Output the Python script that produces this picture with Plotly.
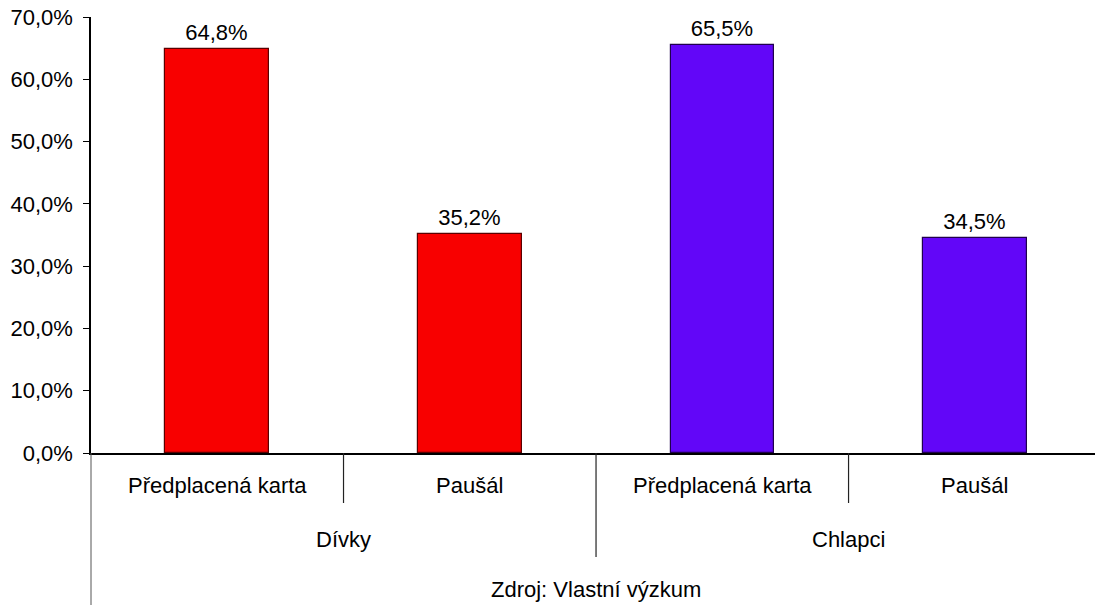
import plotly.graph_objects as go

# data
categories = ["Předplacená karta", "Paušál", "Předplacená karta", "Paušál"]
groups = ["Dívky", "Dívky", "Chlapci", "Chlapci"]
values = [64.8, 35.2, 65.5, 34.5]
source = "Zdroj: Vlastní výzkum"

group_colors = {"Dívky": "#F80000", "Chlapci": "#6206F8"}
group_lines = {"Dívky": "#5A0000", "Chlapci": "#20004F"}

FONT = "Arial, Liberation Sans, sans-serif"
FS = 22
x = list(range(len(values)))

fig = go.Figure()
fig.add_trace(go.Bar(
    x=x, y=values, width=0.41,
    marker=dict(color=[group_colors[g] for g in groups],
                line=dict(color=[group_lines[g] for g in groups], width=1.2)),
    texttemplate="%{y:.1f}%", textposition="outside",
    textfont=dict(size=FS, color="black", family=FONT),
    cliponaxis=False,
))

# category labels (inner level)
for i, c in enumerate(categories):
    fig.add_annotation(x=i, y=0, xref="x", yref="paper", yanchor="middle",
                       yshift=-32, text=c, showarrow=False,
                       font=dict(size=FS, color="black", family=FONT))

# group labels (outer level)
ordered = []
for g in groups:
    if g not in ordered:
        ordered.append(g)
for g in ordered:
    idx = [i for i, gg in enumerate(groups) if gg == g]
    fig.add_annotation(x=sum(idx) / len(idx), y=0, xref="x", yref="paper",
                       yanchor="middle", yshift=-86, text=g, showarrow=False,
                       font=dict(size=FS, color="black", family=FONT))

fig.add_annotation(x=(len(values) - 1) / 2, y=0, xref="x", yref="paper",
                   yanchor="middle", yshift=-136, text=source, showarrow=False,
                   font=dict(size=FS, color="black", family=FONT))

plot_h = 606 - 17 - 153
# separators between inner categories and between groups
for i in range(1, len(values)):
    if groups[i] != groups[i - 1]:
        depth = 104
    else:
        depth = 50
    fig.add_shape(type="line", xref="x", yref="paper", x0=i - 0.5, x1=i - 0.5,
                  y0=0, y1=-depth / plot_h, line=dict(color="#222222", width=1.2))
# left border of the category area
fig.add_shape(type="line", xref="paper", yref="paper", x0=0, x1=0,
              y0=0, y1=-152 / plot_h, line=dict(color="#555555", width=1))

fig.update_layout(
    width=1095, height=606,
    margin=dict(l=91, r=0, t=17, b=153, autoexpand=False),
    paper_bgcolor="white", plot_bgcolor="white",
    showlegend=False,
    separators=",.",
    font=dict(family=FONT, size=FS, color="black"),
    bargap=0,
)
fig.update_xaxes(range=[-0.5, 3.476], showticklabels=False, showgrid=False,
                 zeroline=False, showline=True, linecolor="black", linewidth=2,
                 ticks="")
fig.update_yaxes(range=[0, 70], dtick=10, tickformat=".1f", ticksuffix="%",
                 showgrid=False, zeroline=False, showline=True,
                 linecolor="black", linewidth=1.5, ticks="outside", ticklen=6,
                 tickcolor="black", tickwidth=1, ticklabelstandoff=6,
                 tickfont=dict(size=FS, color="black", family=FONT))

fig.write_html("out.html", config={"displayModeBar": False},
               post_script="document.body.style.margin='0';"
                           "document.body.style.overflow='hidden';")
